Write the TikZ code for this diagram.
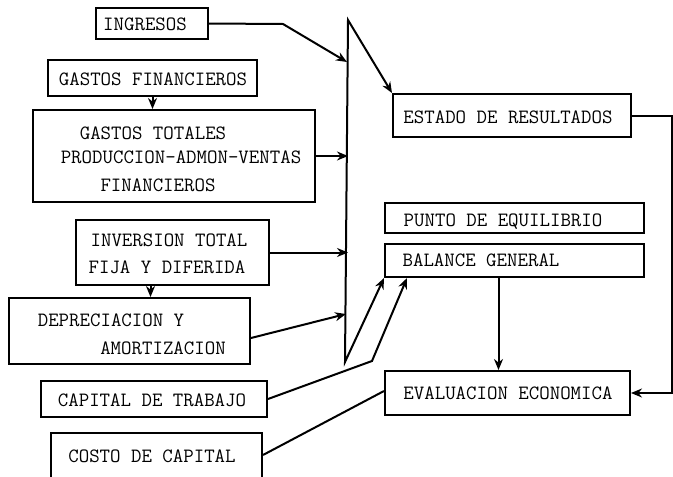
\documentclass[tikz,border=0pt]{standalone}
\usepackage{fontspec}
\usetikzlibrary{arrows.meta,calc}
\tikzset{
  box/.style={draw,line width=2pt,inner sep=0pt},
  txt/.style={font=\ttfamily\fontsize{20.3}{22}\selectfont,inner sep=0pt},
  conn/.style={line width=2pt},
  tip/.tip={Stealth[length=11pt,width=9pt]},
  arr/.style={conn,-tip},
}
\begin{document}
\begin{tikzpicture}[x=1pt,y=-1pt]
\clip (0,0) rectangle (673,477);
\fill[white] (0,0) rectangle (673,477);
% boxes
\node[box,minimum width=112pt,minimum height=31pt] (ingresos) at (152,23.5) {};
\node[box,minimum width=209pt,minimum height=36pt] (gfin) at (152.5,78) {};
\node[box,minimum width=282pt,minimum height=92pt] (gtot) at (174,156) {};
\node[box,minimum width=193pt,minimum height=65pt] (inv) at (172.5,252.5) {};
\node[box,minimum width=241pt,minimum height=66pt] (dep) at (129.5,331) {};
\node[box,minimum width=226pt,minimum height=36pt] (ctrab) at (154,399) {};
\node[box,minimum width=211pt,minimum height=48pt] (costo) at (156.5,457) {};
\node[box,minimum width=238pt,minimum height=43pt] (estado) at (512,115.5) {};
\node[box,minimum width=259pt,minimum height=30pt] (punto) at (514.5,218) {};
\node[box,minimum width=259pt,minimum height=33pt] (balance) at (514.5,260.5) {};
\node[box,minimum width=245pt,minimum height=44pt] (evalu) at (507.5,393) {};
% texts
\node[txt] (t1) at (145,24) {INGRESOS};
\node[txt] (t2) at (153,79) {GASTOS FINANCIEROS};
\node[txt] (t3) at (153,133) {GASTOS TOTALES};
\node[txt] (t4) at (181,157) {PRODUCCION-ADMON-VENTAS};
\node[txt] (t5) at (158,185) {FINANCIEROS};
\node[txt] (t6) at (169,240) {INVERSION TOTAL};
\node[txt] (t7) at (167,267) {FIJA Y DIFERIDA};
\node[txt] (t8) at (111,320) {DEPRECIACION Y};
\node[txt] (t9) at (163,348) {AMORTIZACION};
\node[txt] (t10) at (152,400) {CAPITAL DE TRABAJO};
\node[txt] (t11) at (152,456) {COSTO DE CAPITAL};
\node[txt] (t12) at (508,117) {ESTADO DE RESULTADOS};
\node[txt] (t13) at (503,222) {PUNTO DE EQUILIBRIO};
\node[txt] (t14) at (481,260) {BALANCE GENERAL};
\node[txt] (t15) at (508,393) {EVALUACION ECONOMICA};
% helper coordinates
\coordinate (bartop) at (348,20);
\coordinate (barbot) at (345,362);
\coordinate (ingbend) at (283,24);
\coordinate (ingin) at (347,62);
\coordinate (depin) at (346,314);
\coordinate (ctbend) at (372,361);
\coordinate (rightcol) at (672,0);
% connectors
\draw[conn,tip-tip] (estado.north west) -- (bartop) -- (barbot) -- (balance.south west);
\draw[arr] (ingresos.east) -- (ingbend) -- (ingin);
\draw[arr] (gfin.south) -- (gfin.south |- gtot.north);
\draw[arr] (gtot.east) -- (gtot.east -| bartop);
\draw[arr] (inv.east) -- (inv.east -| bartop);
\draw[arr] ([xshift=-22pt]inv.south) -- ([xshift=-22pt]inv.south |- dep.north);
\draw[arr] ([yshift=-7pt]dep.east) -- (depin);
\draw[arr] (ctrab.east) -- (ctbend) -- ([xshift=23pt]balance.south west);
\draw[conn] ([yshift=2pt]costo.east) -- ([yshift=2pt]evalu.west);
\draw[arr] (estado.east) -- (estado.east -| rightcol) |- (evalu.east);
\draw[arr] ([xshift=-16pt]balance.south) -- ([xshift=-16pt]balance.south |- evalu.north);
\end{tikzpicture}
\end{document}
